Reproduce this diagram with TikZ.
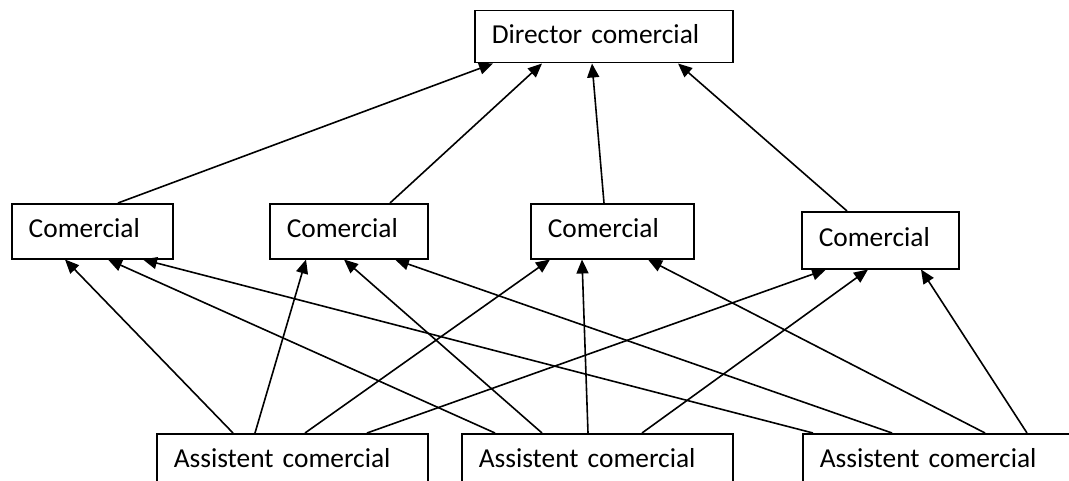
\documentclass[tikz,border=0pt]{standalone}
\usepackage{fontspec}
\setmainfont{Carlito}
\usetikzlibrary{arrows.meta,calc}

\begin{document}
\begin{tikzpicture}[x=0.5pt,y=-0.5pt,
        box/.style={draw,line width=0.75pt,anchor=north west,align=left,
                    font=\fontsize{13.7}{16}\selectfont,text width=#1,
                    inner xsep=8.5pt,inner ysep=0pt,text height=9pt,text depth=2.5pt,
                    minimum height=27.5pt},
        arr/.style={-{Triangle[length=7pt,width=6pt]},line width=0.8pt}]
        \useasboundingbox (0,0) rectangle (1069,481);
        \clip (0,0) rectangle (1069,481);
        \node[box=112pt,minimum height=26pt] (dir) at (474,10) {Director comercial};
        \node[box=63.5pt] (com1) at (11,203) {Comercial};
        \node[box=62pt] (com2) at (269,203) {Comercial};
        \node[box=64.5pt] (com3) at (530,203) {Comercial};
        \node[box=61.5pt,minimum height=28.5pt] (com4) at (801,211) {Comercial};
        \node[box=118.5pt] (asis1) at (156,433) {Assistent comercial};
        \node[box=118.5pt] (asis2) at (461,433) {Assistent comercial};
        \node[box=118.5pt] (asis3) at (802,433) {Assistent comercial};
        % comercials -> director
        \draw[arr] ($(com1.north west)+(107,0)$) -- ($(dir.south west)+(19,0)$);
        \draw[arr] ($(com2.north west)+(121,0)$) -- ($(dir.south west)+(68,0)$);
        \draw[arr] ($(com3.north west)+(74,0)$) -- ($(dir.south west)+(118,0)$);
        \draw[arr] ($(com4.north west)+(46,0)$) -- ($(dir.south west)+(204,0)$);
        % assistents -> comercials
        \draw[arr] ($(asis1.north west)+(77,0)$) -- ($(com1.south west)+(54,0)$);
        \draw[arr] ($(asis2.north west)+(34,0)$) -- ($(com1.south west)+(97,0)$);
        \draw[arr] ($(asis3.north west)+(11,0)$) -- ($(com1.south west)+(132,0)$);
        \draw[arr] ($(asis1.north west)+(99,0)$) -- ($(com2.south west)+(37,0)$);
        \draw[arr] ($(asis2.north west)+(81,0)$) -- ($(com2.south west)+(75,0)$);
        \draw[arr] ($(asis3.north west)+(90,0)$) -- ($(com2.south west)+(126,0)$);
        \draw[arr] ($(asis1.north west)+(149,0)$) -- ($(com3.south west)+(20,0)$);
        \draw[arr] ($(asis2.north west)+(127,0)$) -- ($(com3.south west)+(52,0)$);
        \draw[arr] ($(asis3.north west)+(183,0)$) -- ($(com3.south west)+(118,0)$);
        \draw[arr] ($(asis1.north west)+(211,0)$) -- ($(com4.south west)+(25,0)$);
        \draw[arr] ($(asis2.north west)+(181,0)$) -- ($(com4.south west)+(67,0)$);
        \draw[arr] ($(asis3.north west)+(225,0)$) -- ($(com4.south west)+(120,0)$);
    \end{tikzpicture}
\end{document}
